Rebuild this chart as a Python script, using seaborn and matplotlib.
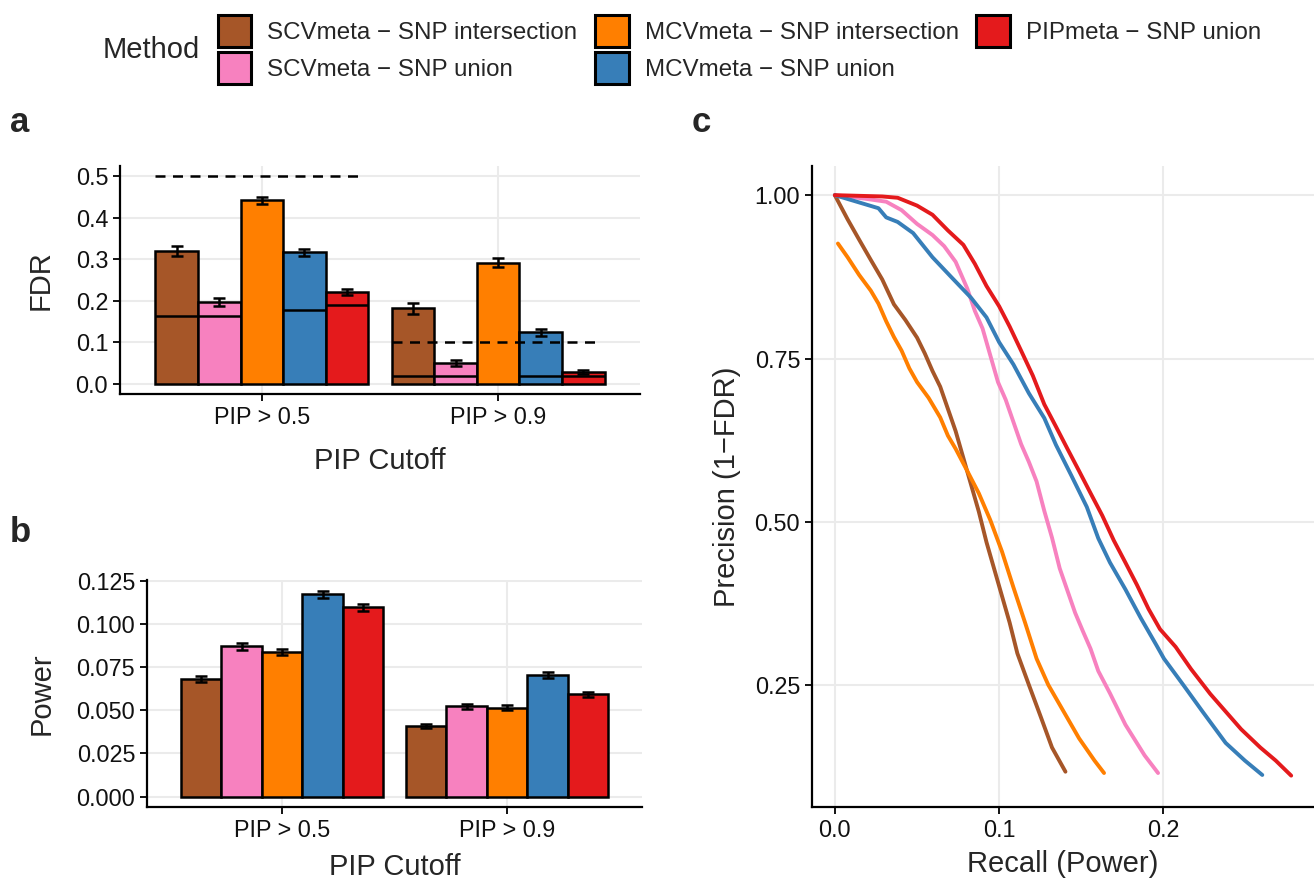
import numpy as np
import pandas as pd
import matplotlib
matplotlib.use("Agg")
import matplotlib.pyplot as plt
from matplotlib.patches import Patch
from matplotlib.container import BarContainer
import seaborn as sns

# ---------------- data ----------------
methods = ["SCVmeta \u2212 SNP intersection", "SCVmeta \u2212 SNP union",
           "MCVmeta \u2212 SNP intersection", "MCVmeta \u2212 SNP union",
           "PIPmeta \u2212 SNP union"]
colors = ["#A65628", "#F781BF", "#FF7F00", "#377EB8", "#E41A1C"]
cutoffs = ["PIP > 0.5", "PIP > 0.9"]

fdr_05 = [0.320, 0.197, 0.442, 0.317, 0.221]
fdr_09 = [0.182, 0.049, 0.292, 0.124, 0.029]
fdr_se_05 = [0.011, 0.009, 0.009, 0.008, 0.008]
fdr_se_09 = [0.013, 0.007, 0.011, 0.009, 0.005]
fdr_inner_05 = [0.163, 0.162, np.nan, 0.177, 0.190]
fdr_inner_09 = [0.019, 0.018, np.nan, 0.019, 0.018]
fdr_target = [0.5, 0.1]

pow_05 = [0.0680, 0.0870, 0.0837, 0.1173, 0.1098]
pow_09 = [0.0410, 0.0523, 0.0515, 0.0703, 0.0592]
pow_se_05 = [0.0017, 0.0019, 0.0018, 0.0020, 0.0020]
pow_se_09 = [0.0013, 0.0015, 0.0014, 0.0017, 0.0016]

# precision-recall curves
recall_scv_int = [0, .0078, .0148, .0219, .0289, .0360, .0430, .0501, .0548, .0595, .0642, .0689, .0736,
                  .0783, .0830, .0877, .0924, .0971, .1018, .1065, .1112, .1182, .1253, .1323, .1405]
prec_scv_int = [1, .963, .932, .901, .871, .833, .809, .782, .758, .731, .707, .673, .639,
                .598, .557, .516, .469, .428, .387, .346, .299, .251, .203, .155, .118]
recall_scv_uni = [0, .0172, .0313, .0407, .0501, .0595, .0666, .0736, .0807, .0853, .0900, .0947, .0994,
                  .1041, .1088, .1135, .1182, .1229, .1276, .1323, .1370, .1417, .1464, .1511, .1558,
                  .1605, .1676, .1770, .1887, .1969]
prec_scv_uni = [1, .995, .990, .977, .956, .939, .922, .898, .857, .823, .796, .755, .714,
                .687, .653, .619, .592, .562, .517, .476, .429, .395, .361, .333, .306,
                .272, .238, .190, .143, .116]
recall_mcv_int = [.0019, .0078, .0148, .0219, .0266, .0313, .0360, .0407, .0454, .0501, .0571, .0642,
                  .0689, .0736, .0807, .0877, .0947, .1018, .1088, .1159, .1229, .1300, .1394, .1488,
                  .1582, .1640]
prec_mcv_int = [.926, .905, .878, .854, .834, .807, .783, .762, .735, .714, .690, .660,
                .632, .612, .578, .544, .503, .455, .400, .346, .291, .251, .210, .169,
                .135, .116]
recall_mcv_uni = [0, .0266, .0313, .0383, .0477, .0595, .0712, .0830, .0924, .1001, .1088, .1182, .1276,
                  .1347, .1441, .1535, .1605, .1676, .1770, .1864, .1958, .2005, .2122, .2240, .2381,
                  .2498, .2604]
prec_mcv_uni = [1, .980, .966, .959, .942, .905, .874, .843, .813, .775, .741, .697, .659,
                .618, .571, .523, .475, .438, .397, .353, .312, .291, .251, .210, .162,
                .135, .113]
recall_pip_uni = [0, .0289, .0383, .0501, .0595, .0689, .0783, .0853, .0924, .1001, .1065, .1135, .1206,
                  .1276, .1347, .1417, .1488, .1558, .1629, .1699, .1770, .1840, .1911, .1981, .2076,
                  .2170, .2287, .2381, .2475, .2592, .2686, .2780]
prec_pip_uni = [1.0, .998, .996, .984, .970, .946, .924, .895, .861, .830, .799, .762, .724,
                .680, .646, .612, .578, .544, .510, .472, .438, .404, .367, .336, .309,
                .275, .237, .210, .183, .155, .135, .112]

# ---------------- style ----------------
sns.set_theme(style="ticks")
plt.rcParams["font.family"] = ["Liberation Sans", "DejaVu Sans"]
plt.rcParams["axes.edgecolor"] = "black"
plt.rcParams["axes.linewidth"] = 1.6
plt.rcParams["xtick.major.width"] = 1.3
plt.rcParams["ytick.major.width"] = 1.3
plt.rcParams["xtick.major.size"] = 5
plt.rcParams["ytick.major.size"] = 5
plt.rcParams["xtick.color"] = "black"
plt.rcParams["ytick.color"] = "black"

TICK = 16.8
TITLE = 21
LEG = 17.4
grid_kw = dict(color="#EBEBEB", linewidth=1.5)

fig = plt.figure(figsize=(13.14, 8.83), dpi=100)
W, H = 1314, 883


def axes_px(l, r, t, b):
    return fig.add_axes([l / W, 1 - b / H, (r - l) / W, (b - t) / H])


ax_a = axes_px(120, 640, 166, 394)
ax_b = axes_px(147, 642, 580, 807)
ax_c = axes_px(812, 1314, 166, 807)

palette = dict(zip(methods, colors))


def style_ax(ax):
    sns.despine(ax=ax)
    ax.set_axisbelow(True)
    ax.grid(True, **grid_kw)
    ax.tick_params(labelsize=TICK, colors="black", labelcolor="#111111")


def bar_panel(ax, v05, v09, se05, se09, ylabel, xpad, ypad):
    df = pd.DataFrame({
        "cutoff": [cutoffs[0]] * 5 + [cutoffs[1]] * 5,
        "method": methods * 2,
        "value": list(v05) + list(v09),
    })
    sns.barplot(data=df, x="cutoff", y="value", hue="method", order=cutoffs,
                hue_order=methods, palette=palette, saturation=1, width=0.9, gap=0,
                edgecolor="black", linewidth=1.8, errorbar=None, legend=False, ax=ax,
                zorder=2)
    ses = [se05, se09]
    centers = {}
    bars = [c for c in ax.containers if isinstance(c, BarContainer)]
    for mi, cont in enumerate(bars):
        for ci, p in enumerate(list(cont.patches)):
            cx = p.get_x() + p.get_width() / 2
            val = p.get_height()
            centers[(mi, ci)] = (p.get_x(), p.get_width())
            ax.errorbar(cx, val, yerr=ses[ci][mi], fmt="none", ecolor="black",
                        elinewidth=1.8, capsize=4, capthick=1.8, zorder=4)
    ax.set_xlabel("PIP Cutoff", fontsize=TITLE, labelpad=xpad)
    ax.set_ylabel(ylabel, fontsize=TITLE, labelpad=ypad)
    style_ax(ax)
    return centers


# panel a
centers_a = bar_panel(ax_a, fdr_05, fdr_09, fdr_se_05, fdr_se_09, "FDR", 13, 15)
inner = [fdr_inner_05, fdr_inner_09]
for (mi, ci), (x0, w) in centers_a.items():
    v = inner[ci][mi]
    if not np.isnan(v):
        ax_a.hlines(v, x0, x0 + w, color="black", linewidth=1.8, zorder=3)
for ci, t in enumerate(fdr_target):
    ax_a.hlines(t, ci - 0.45, ci + 0.43, color="black", linewidth=1.8,
                linestyles=(0, (4, 3)), zorder=5)
ax_a.set_xlim(-0.6, 1.6)
ax_a.set_ylim(-0.025, 0.525)
ax_a.set_yticks([0, 0.1, 0.2, 0.3, 0.4, 0.5])
ax_a.set_yticklabels(["0.0", "0.1", "0.2", "0.3", "0.4", "0.5"])

# panel b
bar_panel(ax_b, pow_05, pow_09, pow_se_05, pow_se_09, "Power", 8, 15)
ax_b.set_xlim(-0.6, 1.6)
ax_b.set_ylim(-0.006, 0.1255)
ax_b.set_yticks([0, 0.025, 0.05, 0.075, 0.1, 0.125])
ax_b.set_yticklabels(["0.000", "0.025", "0.050", "0.075", "0.100", "0.125"])

# panel c
curves = [(recall_scv_int, prec_scv_int), (recall_scv_uni, prec_scv_uni),
          (recall_mcv_int, prec_mcv_int), (recall_mcv_uni, prec_mcv_uni),
          (recall_pip_uni, prec_pip_uni)]
rows = []
for m, (rx, py) in zip(methods, curves):
    for i, (a, b) in enumerate(zip(rx, py)):
        rows.append((m, i, a, b))
df_c = pd.DataFrame(rows, columns=["method", "idx", "recall", "precision"])
sns.lineplot(data=df_c, x="recall", y="precision", hue="method", hue_order=methods,
             palette=palette, sort=False, estimator=None, units="method",
             linewidth=2.8, legend=False, ax=ax_c)
ax_c.set_xlim(-0.0139, 0.2919)
ax_c.set_ylim(0.064, 1.0446)
ax_c.set_xticks([0, 0.1, 0.2])
ax_c.set_xticklabels(["0.0", "0.1", "0.2"])
ax_c.set_yticks([0.25, 0.5, 0.75, 1.0])
ax_c.set_yticklabels(["0.25", "0.50", "0.75", "1.00"])
ax_c.set_xlabel("Recall (Power)", fontsize=TITLE, labelpad=6)
ax_c.set_ylabel("Precision (1\u2212FDR)", fontsize=TITLE, labelpad=10)
style_ax(ax_c)

# panel letters
fig.text(10 / W, 1 - 122 / H, "a", fontsize=25, fontweight="bold", va="center")
fig.text(10 / W, 1 - 532 / H, "b", fontsize=25, fontweight="bold", va="center")
fig.text(692 / W, 1 - 122 / H, "c", fontsize=25, fontweight="bold", va="center")

# legend
handles = [Patch(facecolor=c, edgecolor="black", linewidth=2.2) for c in colors]
fig.text(103 / W, 1 - 50 / H, "Method", fontsize=TITLE, va="center", ha="left")
fig.legend(handles, methods, loc="upper left", bbox_to_anchor=(217.5 / W, 1 - 14.5 / H),
           ncol=3, frameon=False, fontsize=LEG, handlelength=1.4, handleheight=1.72,
           handletextpad=0.66, columnspacing=0.72, labelspacing=0.17, borderpad=0,
           borderaxespad=0)

fig.savefig("out.png", dpi=100)
